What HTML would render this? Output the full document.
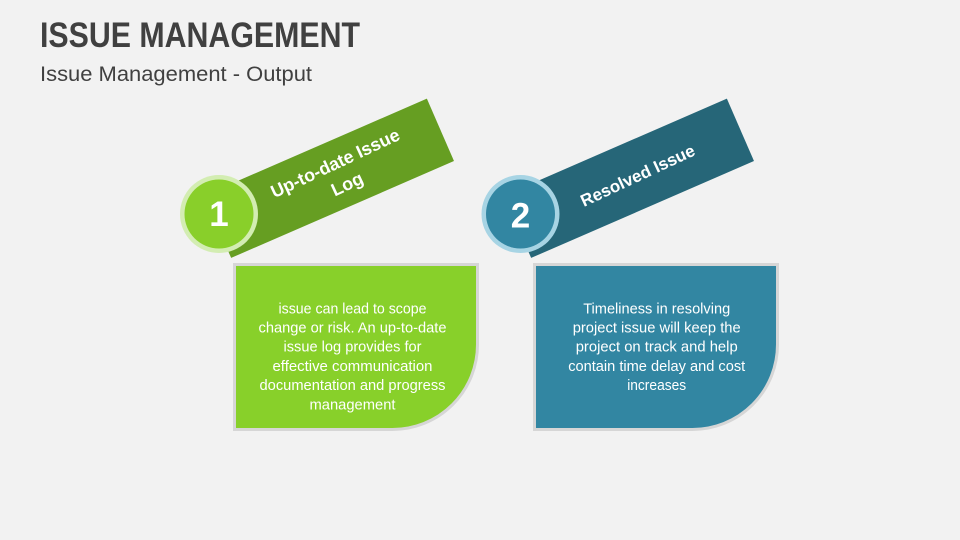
<!DOCTYPE html>
<html>
<head>
<meta charset="utf-8">
<style>
  html,body{margin:0;padding:0;background:#f2f2f2;}
  svg{display:block;}
  text{font-family:"Liberation Sans",sans-serif;}
</style>
</head>
<body>
<svg width="960" height="540" viewBox="0 0 960 540" xmlns="http://www.w3.org/2000/svg">
  <rect x="0" y="0" width="960" height="540" fill="#f2f2f2"/>

  <!-- Title -->
  <text x="40" y="47" font-size="35" font-weight="bold" fill="#404040" textLength="320" lengthAdjust="spacingAndGlyphs">ISSUE MANAGEMENT</text>
  <text x="40" y="81" font-size="21" fill="#404040" textLength="272" lengthAdjust="spacingAndGlyphs">Issue Management - Output</text>

  <!-- Banner 1 -->
  <g transform="translate(329,178.3) rotate(-23.5)">
    <rect x="-121.5" y="-34" width="243" height="68" fill="#669e22"/>
  </g>
  <g transform="translate(329,178.3) rotate(-25)">
    <text x="12" y="-5" font-size="18" font-weight="bold" fill="#ffffff" text-anchor="middle" textLength="140" lengthAdjust="spacingAndGlyphs">Up-to-date Issue</text>
    <text x="14" y="19" font-size="18" font-weight="bold" fill="#ffffff" text-anchor="middle">Log</text>
  </g>

  <!-- Banner 2 -->
  <g transform="translate(629,178.3) rotate(-23.5)">
    <rect x="-121.5" y="-34" width="243" height="68" fill="#266678"/>
  </g>
  <g transform="translate(629,178.3) rotate(-25)">
    <text x="9" y="7" font-size="17" font-weight="bold" fill="#ffffff" text-anchor="middle" textLength="124" lengthAdjust="spacingAndGlyphs">Resolved Issue</text>
  </g>

  <!-- Circle 1 -->
  <circle cx="219" cy="214" r="39" fill="#d3edb2"/>
  <circle cx="219" cy="214" r="34.5" fill="#89cf2a"/>
  <text x="219" y="226" font-size="35" font-weight="bold" fill="#ffffff" text-anchor="middle">1</text>

  <!-- Circle 2 -->
  <circle cx="520.5" cy="214" r="39" fill="#a7d4e4"/>
  <circle cx="520.5" cy="214" r="34.5" fill="#3286a2"/>
  <text x="520.5" y="227.5" font-size="35" font-weight="bold" fill="#ffffff" text-anchor="middle">2</text>

  <!-- Box 1 -->
  <path d="M234.5,264.5 H477.5 V344.5 A85,85 0 0 1 392.5,429.5 H234.5 Z" fill="#88d02a" stroke="#d6d6d6" stroke-width="3"/>
  <g font-size="15" fill="#ffffff" text-anchor="middle">
    <text x="352.5" y="313.3" textLength="148" lengthAdjust="spacingAndGlyphs">issue can lead to scope</text>
    <text x="352.5" y="332.7" textLength="188" lengthAdjust="spacingAndGlyphs">change or risk. An up-to-date</text>
    <text x="352.5" y="351.7" textLength="138" lengthAdjust="spacingAndGlyphs">issue log provides for</text>
    <text x="352.5" y="371" textLength="160" lengthAdjust="spacingAndGlyphs">effective communication</text>
    <text x="352.5" y="390" textLength="186" lengthAdjust="spacingAndGlyphs">documentation and progress</text>
    <text x="352.5" y="409.3" textLength="86" lengthAdjust="spacingAndGlyphs">management</text>
  </g>

  <!-- Box 2 -->
  <path d="M534.5,264.5 H777.5 V344.5 A85,85 0 0 1 692.5,429.5 H534.5 Z" fill="#3286a2" stroke="#d6d6d6" stroke-width="3"/>
  <g font-size="15" fill="#ffffff" text-anchor="middle">
    <text x="656.7" y="313.3" textLength="147" lengthAdjust="spacingAndGlyphs">Timeliness in resolving</text>
    <text x="656.7" y="332.7" textLength="168" lengthAdjust="spacingAndGlyphs">project issue will keep the</text>
    <text x="656.7" y="351.7" textLength="162" lengthAdjust="spacingAndGlyphs">project on track and help</text>
    <text x="656.7" y="371" textLength="177" lengthAdjust="spacingAndGlyphs">contain time delay and cost</text>
    <text x="656.7" y="390" textLength="59" lengthAdjust="spacingAndGlyphs">increases</text>
  </g>
</svg>
</body>
</html>
